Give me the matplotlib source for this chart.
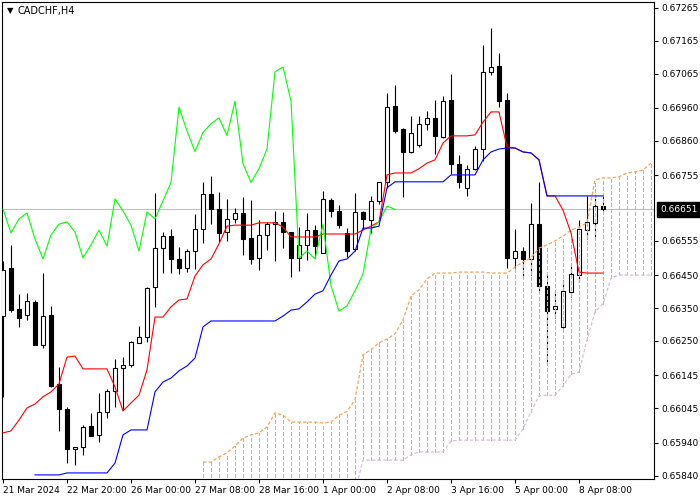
import matplotlib
matplotlib.use("Agg")
import matplotlib.pyplot as plt
import matplotlib.transforms as mtransforms
import numpy as np

plt.rcParams["font.family"] = ["DejaVu Sans"]
plt.rcParams["lines.scale_dashes"] = False

# ---------------------------------------------------------------------------
# CADCHF H4 candles, oldest first
# ---------------------------------------------------------------------------
opens = [
    0.66326, 0.66472, 0.66348, 0.66329, 0.66369, 0.66239, 0.66329, 0.66119, 0.66043, 0.65921,
    0.65927, 0.65991, 0.65964, 0.66035, 0.66098, 0.66168, 0.66178, 0.66244, 0.66262, 0.66415,
    0.66533, 0.66570, 0.66500, 0.66472, 0.66524, 0.66591, 0.66698, 0.66652, 0.66582, 0.66622,
    0.66640, 0.66564, 0.66503, 0.66573, 0.66606, 0.66613, 0.66582, 0.66503, 0.66543, 0.66588,
    0.66518, 0.66680, 0.66646, 0.66579, 0.66530, 0.66643, 0.66619, 0.66677, 0.66733, 0.66966,
    0.66896, 0.66827, 0.66847, 0.66912, 0.66930, 0.66872, 0.66984, 0.66790, 0.66717, 0.66775,
    0.66835, 0.67070, 0.67088, 0.66984, 0.66503, 0.66524, 0.66500, 0.66606, 0.66419, 0.66348,
    0.66293, 0.66400, 0.66451, 0.66588, 0.66610, 0.66661,
]
highs = [
    0.66494, 0.66543, 0.66393, 0.66397, 0.66375, 0.66457, 0.66357, 0.66171, 0.66050, 0.65927,
    0.65995, 0.66031, 0.66092, 0.66105, 0.66196, 0.66202, 0.66250, 0.66296, 0.66415, 0.66701,
    0.66582, 0.66591, 0.66537, 0.66530, 0.66637, 0.66733, 0.66754, 0.66704, 0.66683, 0.66655,
    0.66689, 0.66680, 0.66619, 0.66613, 0.66646, 0.66643, 0.66582, 0.66597, 0.66640, 0.66603,
    0.66707, 0.66686, 0.66664, 0.66594, 0.66701, 0.66646, 0.66693, 0.66735, 0.67007, 0.67030,
    0.66899, 0.66936, 0.66936, 0.66951, 0.66984, 0.66997, 0.67064, 0.66818, 0.66787, 0.66844,
    0.67152, 0.67204, 0.67128, 0.67007, 0.66591, 0.66537, 0.66670, 0.66735, 0.66454, 0.66406,
    0.66436, 0.66482, 0.66619, 0.66693, 0.66693, 0.66693,
]
lows = [
    0.66080, 0.66338, 0.66293, 0.66314, 0.66239, 0.66229, 0.66110, 0.65976, 0.65878, 0.65872,
    0.65903, 0.65961, 0.65942, 0.66016, 0.66050, 0.66040, 0.66171, 0.66244, 0.66247, 0.66354,
    0.66457, 0.66457, 0.66454, 0.66460, 0.66469, 0.66549, 0.66606, 0.66552, 0.66555, 0.66610,
    0.66512, 0.66485, 0.66466, 0.66527, 0.66494, 0.66533, 0.66445, 0.66463, 0.66497, 0.66503,
    0.66518, 0.66628, 0.66594, 0.66506, 0.66524, 0.66591, 0.66579, 0.66667, 0.66717, 0.66885,
    0.66689, 0.66823, 0.66841, 0.66893, 0.66820, 0.66869, 0.66760, 0.66717, 0.66693, 0.66771,
    0.66799, 0.67060, 0.66963, 0.66472, 0.66472, 0.66448, 0.66451, 0.66400, 0.66178, 0.66320,
    0.66290, 0.66384, 0.66431, 0.66561, 0.66564, 0.66646,
]
closes = [
    0.66466, 0.66344, 0.66320, 0.66372, 0.66239, 0.66326, 0.66113, 0.66043, 0.65921, 0.65927,
    0.65988, 0.65961, 0.66035, 0.66098, 0.66168, 0.66178, 0.66247, 0.66262, 0.66412, 0.66533,
    0.66570, 0.66500, 0.66472, 0.66524, 0.66591, 0.66698, 0.66652, 0.66579, 0.66622, 0.66640,
    0.66561, 0.66500, 0.66573, 0.66606, 0.66613, 0.66582, 0.66503, 0.66543, 0.66588, 0.66539,
    0.66683, 0.66646, 0.66603, 0.66524, 0.66643, 0.66622, 0.66677, 0.66733, 0.66963, 0.66890,
    0.66827, 0.66885, 0.66912, 0.66930, 0.66876, 0.66981, 0.66790, 0.66733, 0.66775, 0.66835,
    0.67070, 0.67085, 0.66981, 0.66503, 0.66524, 0.66500, 0.66606, 0.66419, 0.66341, 0.66357,
    0.66403, 0.66454, 0.66591, 0.66613, 0.66661, 0.66651,
]

# Ichimoku lines as drawn on the chart
tenkan = [
    0.65970, 0.65976, 0.66009, 0.66046, 0.66058, 0.66080, 0.66095, 0.66119, 0.66201, 0.66204,
    0.66165, 0.66165, 0.66165, 0.66165, 0.66110, 0.66037, 0.66061, 0.66085, 0.66162, 0.66323,
    0.66323, 0.66354, 0.66375, 0.66378, 0.66448, 0.66482, 0.66500, 0.66546, 0.66600, 0.66603,
    0.66603, 0.66603, 0.66610, 0.66610, 0.66610, 0.66597, 0.66567, 0.66567, 0.66567, 0.66567,
    0.66576, 0.66576, 0.66576, 0.66576, 0.66576, 0.66588, 0.66600, 0.66613, 0.66756, 0.66762,
    0.66762, 0.66762, 0.66775, 0.66792, 0.66802, 0.66853, 0.66875, 0.66875, 0.66875, 0.66878,
    0.66917, 0.66948, 0.66948, 0.66841, 0.66838, 0.66826, 0.66823, 0.66802, 0.66692, 0.66692,
    0.66649, 0.66579, 0.66460, 0.66457, 0.66457, 0.66457,
]
kijun = [
    np.nan, np.nan, np.nan, np.nan, 0.65842, 0.65842, 0.65842, 0.65842, 0.65848, 0.65848,
    0.65848, 0.65848, 0.65848, 0.65848, 0.65878, 0.65964, 0.65979, 0.65979, 0.65979, 0.66095,
    0.66125, 0.66137, 0.66159, 0.66174, 0.66198, 0.66293, 0.66311, 0.66311, 0.66311, 0.66311,
    0.66311, 0.66311, 0.66311, 0.66311, 0.66311, 0.66326, 0.66344, 0.66348, 0.66369, 0.66393,
    0.66403, 0.66451, 0.66494, 0.66500, 0.66524, 0.66594, 0.66594, 0.66600, 0.66717, 0.66735,
    0.66735, 0.66735, 0.66735, 0.66735, 0.66735, 0.66735, 0.66756, 0.66756, 0.66756, 0.66756,
    0.66802, 0.66826, 0.66835, 0.66838, 0.66838, 0.66826, 0.66823, 0.66802, 0.66692, 0.66692,
    0.66692, 0.66692, 0.66692, 0.66692, 0.66692, 0.66692,
]
# Senkou spans, bar 25 to bar 81 (already shifted 26 bars forward)
span_a = [
    0.65881, 0.65881, 0.65897, 0.65909, 0.65930, 0.65954, 0.65964, 0.65970, 0.65988, 0.66031,
    0.66024, 0.66003, 0.66003, 0.66003, 0.66003, 0.66000, 0.66003, 0.66024, 0.66035, 0.66071,
    0.66208, 0.66224, 0.66244, 0.66256, 0.66272, 0.66314, 0.66387, 0.66406, 0.66439, 0.66457,
    0.66457, 0.66457, 0.66460, 0.66460, 0.66460, 0.66460, 0.66457, 0.66457, 0.66457, 0.66475,
    0.66491, 0.66503, 0.66533, 0.66543, 0.66555, 0.66570, 0.66588, 0.66597, 0.66610, 0.66741,
    0.66747, 0.66747, 0.66750, 0.66762, 0.66765, 0.66771, 0.66792,
]
span_b = [
    0.65780, 0.65780, 0.65780, 0.65780, 0.65780, 0.65780, 0.65780, 0.65780, 0.65780, 0.65780,
    0.65780, 0.65780, 0.65780, 0.65780, 0.65780, 0.65780, 0.65780, 0.65780, 0.65780, 0.65790,
    0.65887, 0.65887, 0.65887, 0.65887, 0.65887, 0.65887, 0.65903, 0.65912, 0.65912, 0.65912,
    0.65912, 0.65945, 0.65948, 0.65948, 0.65948, 0.65948, 0.65948, 0.65948, 0.65948, 0.65948,
    0.65982, 0.66035, 0.66083, 0.66085, 0.66085, 0.66113, 0.66149, 0.66155, 0.66253, 0.66338,
    0.66363, 0.66442, 0.66451, 0.66451, 0.66451, 0.66451, 0.66451,
]
CLOUD_START = 25
CHIKOU_SHIFT = 26

price_ticks = [0.67265, 0.67165, 0.67065, 0.66960, 0.66860, 0.66755,
               0.66555, 0.66450, 0.66350, 0.66250, 0.66145, 0.66045, 0.65940, 0.65840]
time_ticks = [0, 8, 16, 24, 32, 40, 48, 56, 64, 72]
time_labels = ["21 Mar 2024", "22 Mar 20:00", "26 Mar 00:00", "27 Mar 08:00",
               "28 Mar 16:00", "1 Apr 00:00", "2 Apr 08:00", "3 Apr 16:00",
               "5 Apr 00:00", "8 Apr 08:00"]
last_price = 0.66651
symbol = "CADCHF,H4"

SANDY = "#F4A460"
THISTLE = "#D8BFD8"
DOTS = (0, (2.5, 1.5))

fig = plt.figure(figsize=(7, 5), dpi=100)
ax = fig.add_axes([2 / 700, 21 / 500, 652 / 700, 477 / 500])
ax.set_xlim(-0.125, 81.375)
ax.set_ylim(0.658295, 0.672829)

# current price line
ax.axhline(last_price, color="#C0C0C0", lw=0.8, zorder=1)

# --- candles ---
o = np.array(opens)
c = np.array(closes)
x = np.arange(len(o))
ax.vlines(x, lows, highs, color="black", lw=0.8, zorder=2)
up = c >= o
ax.bar(x[up], (c - o)[up], bottom=o[up], width=0.55, facecolor="white",
       edgecolor="black", lw=0.8, zorder=3)
ax.bar(x[~up], (o - c)[~up], bottom=c[~up], width=0.55, facecolor="black",
       edgecolor="black", lw=0.8, zorder=3)

# --- Ichimoku ---
xc = np.arange(CLOUD_START, CLOUD_START + len(span_a))
ax.vlines(xc, span_b, span_a, colors=SANDY, linestyles=DOTS, lw=1.0,
          antialiased=False, zorder=4)
ax.plot(xc, span_a, color=SANDY, ls=DOTS, lw=0.9, zorder=4)
ax.plot(xc, span_b, color=THISTLE, ls=DOTS, lw=0.9, zorder=4)

ax.plot(x, tenkan, color="red", lw=0.8, zorder=5)
ax.plot(x, kijun, color="blue", lw=0.8, zorder=6)
ax.plot(x[CHIKOU_SHIFT:] - CHIKOU_SHIFT, c[CHIKOU_SHIFT:], color="#00FF00", lw=0.8, zorder=5)

# --- axes styling ---
for sp in ax.spines.values():
    sp.set_color("black")
    sp.set_linewidth(0.8)

ax.yaxis.tick_right()
ax.set_yticks(price_ticks)
ax.set_yticklabels([f"{p:.5f}" for p in price_ticks])
ax.tick_params(axis="y", length=3, width=0.8, pad=2, labelsize=6.5)

ax.set_xticks(time_ticks)
ax.set_xticklabels(time_labels, ha="left")
ax.tick_params(axis="x", length=3, width=0.8, pad=2, labelsize=6.5)

trans = mtransforms.blended_transform_factory(ax.transAxes, ax.transData)
ax.text(1.0 + 6 / 652, last_price, f"{last_price:.5f}", transform=trans,
        ha="left", va="center", color="white", fontsize=6.5,
        bbox=dict(boxstyle="square,pad=0.35", facecolor="black", edgecolor="black"))

fig.text(7 / 700, 1 - 11 / 500, "\u25bc", fontsize=6, va="center", ha="left")
fig.text(18 / 700, 1 - 11 / 500, symbol, fontsize=7, va="center", ha="left")

fig.savefig("out.png", dpi=100)
